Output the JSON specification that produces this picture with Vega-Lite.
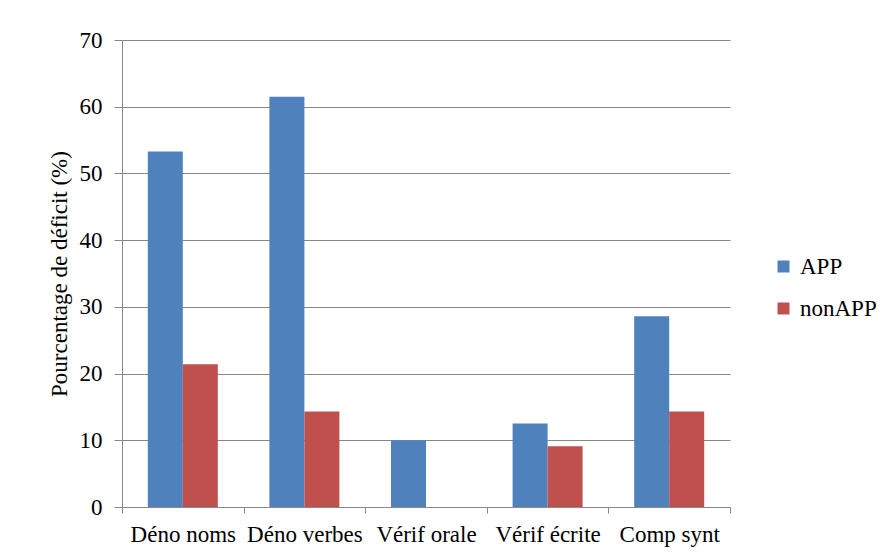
{
  "$schema": "https://vega.github.io/schema/vega-lite/v6.json",
  "autosize": "none",
  "padding": {"left": 122, "top": 40, "right": 151, "bottom": 51},
  "width": 608,
  "height": 467,
  "background": "white",
  "data": {
    "values": [
      {"test": "Déno noms", "groupe": "APP", "valeur": 53.3},
      {"test": "Déno noms", "groupe": "nonAPP", "valeur": 21.4},
      {"test": "Déno verbes", "groupe": "APP", "valeur": 61.5},
      {"test": "Déno verbes", "groupe": "nonAPP", "valeur": 14.3},
      {"test": "Vérif orale", "groupe": "APP", "valeur": 10.0},
      {"test": "Vérif orale", "groupe": "nonAPP", "valeur": 0},
      {"test": "Vérif écrite", "groupe": "APP", "valeur": 12.5},
      {"test": "Vérif écrite", "groupe": "nonAPP", "valeur": 9.1},
      {"test": "Comp synt", "groupe": "APP", "valeur": 28.6},
      {"test": "Comp synt", "groupe": "nonAPP", "valeur": 14.3}
    ]
  },
  "mark": {"type": "bar"},
  "encoding": {
    "x": {
      "field": "test",
      "type": "nominal",
      "sort": null,
      "scale": {"paddingInner": 0, "paddingOuter": 0},
      "axis": {
        "title": null,
        "labelAngle": 0,
        "tickBand": "extent",
        "tickSize": 6,
        "labelPadding": 10,
        "grid": false
      }
    },
    "xOffset": {
      "field": "groupe",
      "type": "nominal",
      "scale": {"paddingInner": 0, "paddingOuter": 0.737}
    },
    "y": {
      "field": "valeur",
      "type": "quantitative",
      "scale": {"domain": [0, 70], "nice": false},
      "axis": {
        "title": "Pourcentage de déficit (%)",
        "values": [0, 10, 20, 30, 40, 50, 60, 70],
        "tickSize": 8,
        "labelPadding": 12,
        "titlePadding": 8,
        "grid": true
      }
    },
    "color": {
      "field": "groupe",
      "type": "nominal",
      "scale": {"domain": ["APP", "nonAPP"], "range": ["#4F81BD", "#C0504D"]},
      "legend": {
        "title": null,
        "orient": "none",
        "legendX": 650,
        "legendY": 215,
        "symbolType": "square",
        "symbolSize": 144,
        "symbolStrokeWidth": 0,
        "labelOffset": 5,
        "rowPadding": 18,
        "labelFontSize": 23,
        "labelFont": "'Liberation Serif', 'Times New Roman', serif",
        "labelColor": "black"
      }
    }
  },
  "config": {
    "view": {"stroke": null},
    "axis": {
      "labelFont": "'Liberation Serif', 'Times New Roman', serif",
      "titleFont": "'Liberation Serif', 'Times New Roman', serif",
      "labelFontSize": 23,
      "titleFontSize": 23,
      "titleFontWeight": "normal",
      "labelColor": "black",
      "titleColor": "black",
      "domainColor": "#888888",
      "tickColor": "#888888",
      "gridColor": "#888888",
      "gridOpacity": 1,
      "domainWidth": 1,
      "tickWidth": 1,
      "gridWidth": 1
    }
  }
}
